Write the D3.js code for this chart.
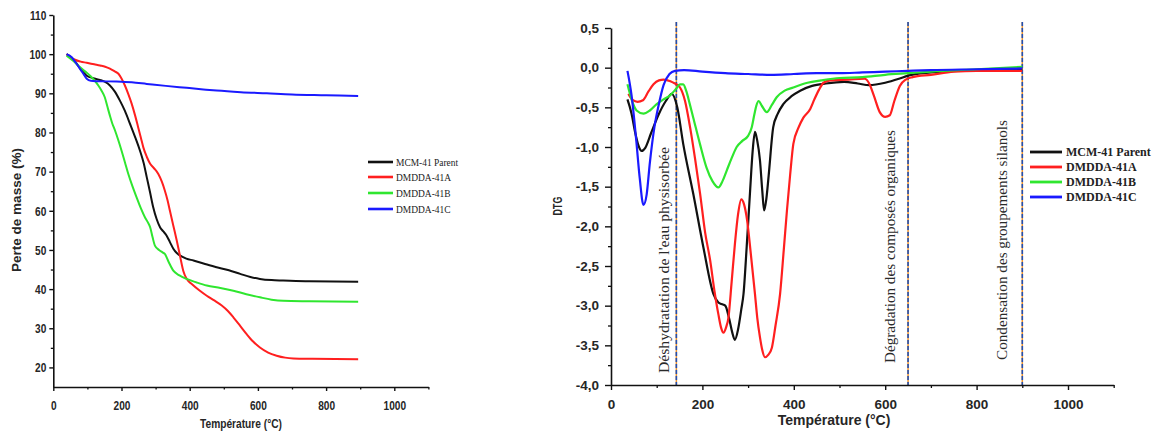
<!DOCTYPE html>
<html>
<head>
<meta charset="utf-8">
<script src="https://cdn.jsdelivr.net/npm/d3@7"></script>
<style>
  body { margin: 0; background: #fff; }
  svg { display: block; }
</style>
</head>
<body>
<svg id="fig" width="1153" height="434"></svg>
<script>
// ---- series ----
const seriesNames = ["MCM-41 Parent", "DMDDA-41A", "DMDDA-41B", "DMDDA-41C"];
const seriesColors = ["#111111", "#ff1f1f", "#2fe62f", "#1a1aff"];

// TG curves: [temperature °C, mass %]
const tgParent = [[39,100],[60,98.6],[80,96.2],[98,94.5],[120,93.8],[137,93.4],[152,92.9],[166,92],[180,90.5],[195,88.2],[210,85.5],[225,82.2],[240,78.8],[254,75.4],[265,72.2],[274,68.6],[284,64.6],[293,60.9],[303,57.9],[313,55.8],[322,54.8],[332,53.7],[342,52],[352,50.3],[362,49.2],[371,48.6],[390,47.8],[411,47.3],[445,46.4],[479,45.6],[515,44.8],[548,43.9],[578,43.1],[606,42.6],[640,42.3],[674,42.2],[750,42],[894,41.9]];
const tgA = [[39,100],[60,98.7],[80,98.1],[98,97.8],[120,97.4],[137,97.1],[152,96.8],[166,96.3],[180,95.6],[191,95],[200,93.8],[210,92],[220,89.8],[230,87.3],[240,84.3],[249,81.3],[257,78.6],[264,76.2],[274,73.8],[284,72],[296,70.8],[308,69.4],[318,67.5],[327,65.2],[335,62.7],[342,60],[352,56.2],[362,52.4],[372,48.3],[381,44.7],[392,42.5],[406,41.3],[428,39.7],[450,38.3],[472,37.1],[494,35.8],[512,34.4],[528,32.8],[548,30.6],[567,28.5],[586,26.6],[606,25.1],[630,23.8],[655,23],[680,22.5],[704,22.3],[760,22.2],[894,22.1]];
const tgB = [[39,99.6],[58,98.3],[78,96.7],[93,95.6],[108,94.5],[120,93.4],[132,92],[142,90.6],[151,89],[158,86.8],[166,84.3],[173,82.3],[181,80.5],[190,78.2],[200,75.4],[210,72.4],[220,69.4],[232,66.3],[244,63.5],[256,60.8],[269,58.3],[277,57.1],[284,55.8],[291,53.3],[298,51.1],[310,50],[320,49.4],[327,49],[338,47],[352,44.7],[370,43.5],[391,42.6],[420,41.7],[450,40.9],[490,40.3],[528,39.6],[566,38.7],[606,37.9],[640,37.3],[674,37],[750,36.9],[894,36.8]];
const tgC = [[39,100],[54,99.2],[66,97.8],[78,96.3],[88,95],[98,93.7],[110,93.2],[127,93.1],[186,93],[230,92.8],[274,92.4],[330,91.9],[391,91.4],[440,91],[479,90.7],[550,90.3],[626,90],[700,89.7],[800,89.5],[894,89.3]];

// DTG curves: [temperature °C, DTG]
const dtgParent = [[36,-0.40],[45,-0.58],[53,-0.82],[60,-0.98],[67,-1.05],[75,-1.01],[88,-0.82],[105,-0.58],[120,-0.42],[133,-0.33],[145,-0.50],[158,-0.96],[180,-1.59],[202,-2.26],[224,-2.85],[235,-2.96],[242,-2.98],[250,-3.00],[258,-3.15],[265,-3.33],[271,-3.43],[278,-3.30],[285,-3.05],[290,-2.85],[297,-2.25],[304,-1.59],[310,-1.05],[315,-0.81],[320,-0.92],[326,-1.17],[331,-1.55],[335,-1.80],[340,-1.65],[345,-1.36],[355,-0.75],[365,-0.58],[377,-0.46],[395,-0.36],[414,-0.29],[440,-0.23],[470,-0.20],[510,-0.18],[540,-0.20],[565,-0.22],[600,-0.19],[630,-0.14],[650,-0.10],[700,-0.06],[800,-0.03],[900,-0.02]];
const dtgA = [[38,-0.33],[48,-0.41],[58,-0.43],[70,-0.41],[82,-0.30],[93,-0.21],[105,-0.16],[115,-0.15],[130,-0.17],[140,-0.20],[151,-0.25],[162,-0.42],[173,-0.75],[184,-1.15],[195,-1.59],[206,-2.08],[217,-2.43],[226,-2.80],[235,-3.11],[241,-3.28],[246,-3.34],[252,-3.27],[257,-3.15],[264,-2.70],[271,-2.23],[278,-1.85],[285,-1.66],[291,-1.72],[298,-1.93],[306,-2.35],[315,-2.85],[320,-3.15],[326,-3.40],[331,-3.56],[337,-3.65],[344,-3.62],[352,-3.53],[360,-3.25],[370,-2.85],[378,-2.30],[385,-1.80],[392,-1.35],[399,-0.96],[410,-0.76],[421,-0.63],[436,-0.52],[445,-0.40],[455,-0.28],[465,-0.19],[480,-0.16],[520,-0.15],[555,-0.14],[565,-0.20],[575,-0.35],[588,-0.56],[600,-0.62],[610,-0.60],[620,-0.42],[632,-0.23],[645,-0.15],[660,-0.12],[700,-0.09],[750,-0.05],[800,-0.04],[900,-0.04]];
const dtgB = [[36,-0.21],[45,-0.40],[56,-0.54],[71,-0.58],[85,-0.54],[100,-0.46],[115,-0.40],[129,-0.35],[142,-0.27],[151,-0.21],[158,-0.21],[165,-0.30],[172,-0.45],[180,-0.63],[195,-0.97],[209,-1.26],[222,-1.43],[235,-1.51],[244,-1.43],[253,-1.30],[264,-1.14],[275,-1.00],[288,-0.92],[300,-0.86],[308,-0.75],[314,-0.58],[318,-0.48],[323,-0.42],[330,-0.48],[341,-0.56],[352,-0.47],[363,-0.37],[380,-0.29],[399,-0.25],[430,-0.19],[460,-0.16],[500,-0.13],[550,-0.12],[600,-0.09],[650,-0.07],[700,-0.05],[800,-0.02],[900,0.01]];
const dtgC = [[36,-0.04],[45,-0.35],[55,-0.90],[63,-1.40],[71,-1.73],[78,-1.60],[85,-1.20],[95,-0.75],[104,-0.48],[115,-0.22],[128,-0.08],[140,-0.04],[160,-0.03],[200,-0.05],[250,-0.07],[300,-0.08],[350,-0.09],[400,-0.08],[450,-0.07],[500,-0.07],[550,-0.06],[600,-0.05],[650,-0.04],[700,-0.03],[800,-0.02],[900,-0.01]];

// ---- ticks and annotations ----
const tempTicks = [0, 200, 400, 600, 800, 1000];
const tempMinorTicks = [100, 300, 500, 700, 900, 1100];
const tgTicks = [20, 30, 40, 50, 60, 70, 80, 90, 100, 110];
const tgMinorTicks = [25, 35, 45, 55, 65, 75, 85, 95, 105];
const dtgTicks = [-4, -3.5, -3, -2.5, -2, -1.5, -1, -0.5, 0, 0.5];
const dtgMinorTicks = [-3.75, -3.25, -2.75, -2.25, -1.75, -1.25, -0.75, -0.25, 0.25];
const stageBounds = [143, 650, 900];
const stageLabels = ["Déshydratation de l'eau physisorbée", "Dégradation des composés organiques", "Condensation des groupements silanols"];

const svg = d3.select("#fig");
svg.append("rect").attr("width", 1153).attr("height", 434).attr("fill", "#fff");

const SANS = "'Liberation Sans', Arial, Helvetica, sans-serif";
const SERIF = "'Liberation Serif', 'Times New Roman', Times, serif";

function styleAxis(g, squeeze, isLeft, labelOffset) {
  g.select(".domain").attr("stroke", "#111").attr("stroke-width", 1.6);
  g.selectAll(".tick line").attr("stroke", "#111").attr("stroke-width", 1.4);
  g.selectAll(".tick text")
    .attr("font-family", SANS).attr("font-weight", "bold")
    .attr("font-size", "13.5px").attr("fill", "#262626")
    .each(function () {
      const t = d3.select(this);
      if (isLeft) {
        t.attr("x", -labelOffset / squeeze);
      }
      t.attr("transform", `scale(${squeeze},1)`);
    });
}

function addAxes(x, y, opt) {
  const [x0] = x.range();
  const [y0] = y.range();
  // minor ticks
  svg.append("g").attr("transform", `translate(0,${y0})`)
    .call(d3.axisBottom(x).tickValues(tempMinorTicks).tickSize(opt.minor).tickFormat("").tickSizeOuter(0))
    .call(g => { g.select(".domain").remove(); g.selectAll("line").attr("stroke", "#111").attr("stroke-width", 1.3); });
  svg.append("g").attr("transform", `translate(${x0},0)`)
    .call(d3.axisLeft(y).tickValues(opt.yMinor).tickSize(opt.minor).tickFormat("").tickSizeOuter(0))
    .call(g => { g.select(".domain").remove(); g.selectAll("line").attr("stroke", "#111").attr("stroke-width", 1.3); });
  // major ticks + labels
  svg.append("g").attr("transform", `translate(0,${y0})`)
    .call(d3.axisBottom(x).tickValues(tempTicks).tickSize(opt.xTick).tickPadding(opt.xPad).tickSizeOuter(0).tickFormat(d3.format("d")))
    .call(g => styleAxis(g, opt.squeeze, false));
  svg.append("g").attr("transform", `translate(${x0},0)`)
    .call(d3.axisLeft(y).tickValues(opt.yTicks).tickSize(opt.yTick).tickSizeOuter(0).tickFormat(opt.yFormat))
    .call(g => styleAxis(g, opt.squeeze, true, opt.yTick + opt.yPad));
}

function drawCurves(x, y, data, width) {
  const line = d3.line().x(d => x(d[0])).y(d => y(d[1])).curve(d3.curveMonotoneX);
  data.forEach((s, i) => {
    svg.append("path").datum(s)
      .attr("d", line)
      .attr("fill", "none")
      .attr("stroke", seriesColors[i])
      .attr("stroke-width", width)
      .attr("stroke-linejoin", "round");
  });
}

// ================= TG panel =================
const xL = d3.scaleLinear().domain([0, 1100]).range([53.3, 428.4]);
const yL = d3.scaleLinear().domain([15, 110]).range([387, 15]);

drawCurves(xL, yL, [tgParent, tgA, tgB, tgC], 2);
addAxes(xL, yL, {
  squeeze: 0.75, minor: 2.5, xTick: 4, xPad: 9, yTick: 4, yPad: 3,
  yTicks: tgTicks, yMinor: tgMinorTicks, yFormat: d3.format("d")
});

svg.append("text")
  .attr("transform", "translate(241,428) scale(0.755,1)")
  .attr("text-anchor", "middle")
  .attr("font-family", SANS).attr("font-weight", "bold").attr("font-size", "13.5px").attr("fill", "#262626")
  .text("Température (°C)");
svg.append("text")
  .attr("transform", "translate(21,210) rotate(-90)")
  .attr("text-anchor", "middle")
  .attr("font-family", SANS).attr("font-weight", "bold").attr("font-size", "13.5px").attr("fill", "#262626")
  .text("Perte de masse (%)");

// legend
const legL = svg.append("g");
seriesNames.forEach((name, i) => {
  const yy = [162, 177, 193, 209][i];
  legL.append("line").attr("x1", 368).attr("x2", 393).attr("y1", yy).attr("y2", yy)
    .attr("stroke", seriesColors[i]).attr("stroke-width", 2.6);
  legL.append("text")
    .attr("transform", `translate(396,${yy + 3.6}) scale(0.9,1)`)
    .attr("font-family", SERIF).attr("font-size", "10.5px").attr("fill", "#222")
    .text(name);
});

// ================= DTG panel =================
const xR = d3.scaleLinear().domain([0, 1100]).range([611, 1113.7]);
const yR = d3.scaleLinear().domain([-4, 0.5]).range([385, 28]);

// stage boundaries: blue dashes over an orange rule
stageBounds.forEach(t => {
  svg.append("line").attr("x1", xR(t)).attr("x2", xR(t)).attr("y1", 22).attr("y2", yR(-4))
    .attr("stroke", "#e8912f").attr("stroke-width", 1.5);
  svg.append("line").attr("x1", xR(t)).attr("x2", xR(t)).attr("y1", 22).attr("y2", yR(-4))
    .attr("stroke", "#234fb0").attr("stroke-width", 1.6).attr("stroke-dasharray", "4,2");
});

const stagePos = [
  { x: 669, y: 373, len: 226 },
  { x: 895, y: 363, len: 233 },
  { x: 1007, y: 360, len: 240 }
];
stageLabels.forEach((txt, i) => {
  const p = stagePos[i];
  svg.append("text")
    .attr("transform", `translate(${p.x},${p.y}) rotate(-90)`)
    .attr("font-family", SERIF).attr("font-size", "14px").attr("fill", "#2a2a2a")
    .attr("textLength", p.len).attr("lengthAdjust", "spacingAndGlyphs")
    .text(txt);
});

drawCurves(xR, yR, [dtgParent, dtgA, dtgB, dtgC], 2.2);
addAxes(xR, yR, {
  squeeze: 1, minor: 3, xTick: 5, xPad: 9, yTick: 6, yPad: 6,
  yTicks: dtgTicks, yMinor: dtgMinorTicks, yFormat: d => d.toFixed(1).replace(".", ",")
});

svg.append("text")
  .attr("transform", "translate(834,425)")
  .attr("text-anchor", "middle")
  .attr("font-family", SANS).attr("font-weight", "bold").attr("font-size", "14px").attr("fill", "#262626")
  .text("Température (°C)");
svg.append("text")
  .attr("transform", "translate(562,206) rotate(-90) scale(0.66,1)")
  .attr("text-anchor", "middle")
  .attr("font-family", SANS).attr("font-weight", "bold").attr("font-size", "13.5px").attr("fill", "#262626")
  .text("DTG");

const legR = svg.append("g");
seriesNames.forEach((name, i) => {
  const yy = [152, 167, 182, 197][i];
  legR.append("line").attr("x1", 1030).attr("x2", 1062).attr("y1", yy).attr("y2", yy)
    .attr("stroke", seriesColors[i]).attr("stroke-width", 2.8);
  legR.append("text")
    .attr("x", 1066).attr("y", yy + 4)
    .attr("font-family", SERIF).attr("font-weight", "bold").attr("font-size", "12px").attr("fill", "#222")
    .text(name);
});
</script>
</body>
</html>
